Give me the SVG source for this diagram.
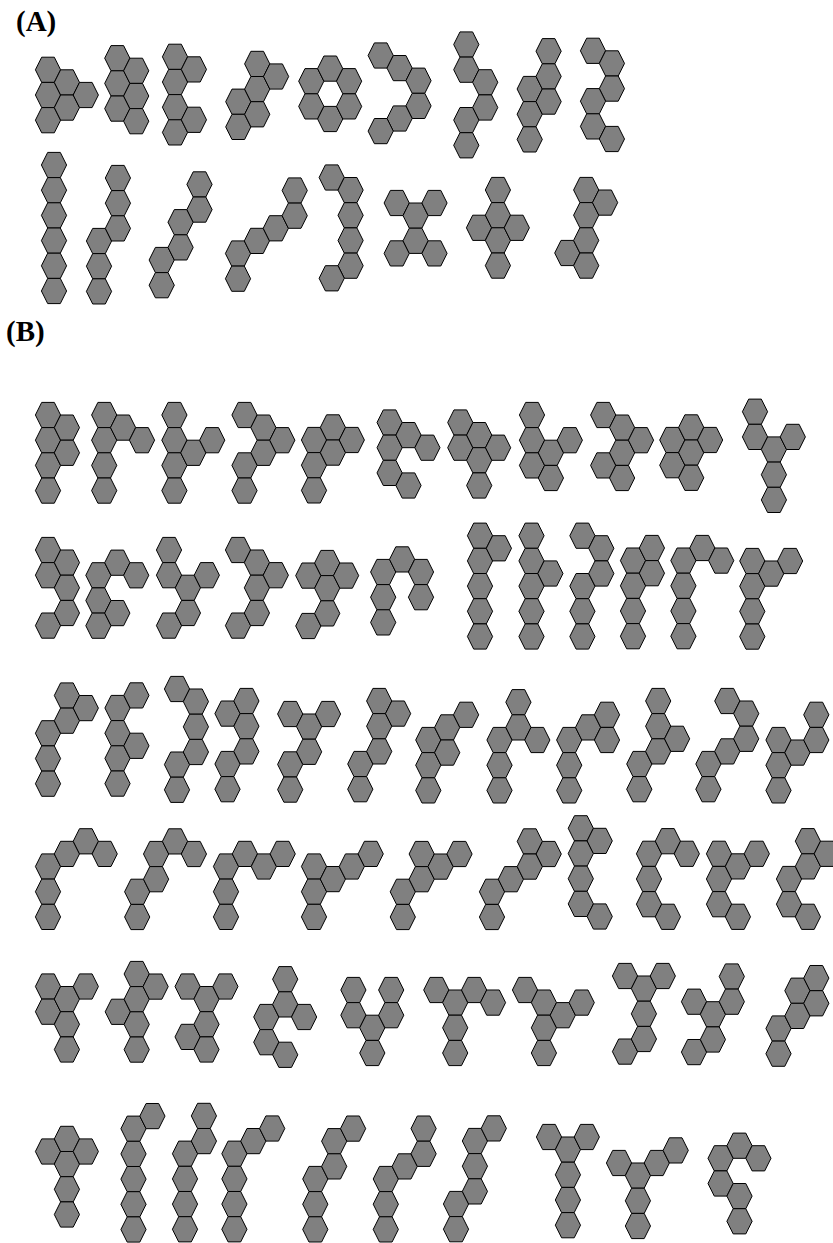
<svg xmlns="http://www.w3.org/2000/svg" xmlns:xlink="http://www.w3.org/1999/xlink" width="833" height="1243" viewBox="0 0 833 1243">
<style>
.hx{fill:#808080;stroke:#000;stroke-width:1;stroke-linejoin:miter}
.lbl{font-family:"Liberation Serif","Times New Roman",serif;font-weight:bold;font-size:29px;fill:#000}
</style>
<defs>
<polygon id="h" class="hx" points="-12.6,0 -6.3,-12.6 6.3,-12.6 12.6,0 6.3,12.6 -6.3,12.6"/>
</defs>
<rect width="833" height="1243" fill="#fff"/>
<text class="lbl" x="16" y="31">(A)</text>
<text class="lbl" x="6" y="341">(B)</text>
<g id="connectors"/>
<g id="A1" transform="translate(48,69.8)"><use href="#h" x="0" y="0"/><use href="#h" x="0" y="25.2"/><use href="#h" x="0" y="50.4"/><use href="#h" x="18.9" y="12.6"/><use href="#h" x="18.9" y="37.8"/><use href="#h" x="37.8" y="25.2"/></g>
<g id="A2" transform="translate(117.3,58.2)"><use href="#h" x="0" y="0"/><use href="#h" x="0" y="25.2"/><use href="#h" x="0" y="50.4"/><use href="#h" x="18.9" y="12.6"/><use href="#h" x="18.9" y="37.8"/><use href="#h" x="18.9" y="63"/></g>
<g id="A3" transform="translate(175,56.8)"><use href="#h" x="0" y="0"/><use href="#h" x="0" y="25.2"/><use href="#h" x="0" y="50.4"/><use href="#h" x="0" y="75.6"/><use href="#h" x="18.9" y="12.6"/><use href="#h" x="18.9" y="63"/></g>
<g id="A4" transform="translate(238.3,101.7)"><use href="#h" x="0" y="0"/><use href="#h" x="0" y="25.2"/><use href="#h" x="18.9" y="-37.8"/><use href="#h" x="18.9" y="-12.6"/><use href="#h" x="18.9" y="12.6"/><use href="#h" x="37.8" y="-25.2"/></g>
<g id="A5" transform="translate(311.3,81.2)"><use href="#h" x="0" y="0"/><use href="#h" x="0" y="25.2"/><use href="#h" x="18.9" y="-12.6"/><use href="#h" x="18.9" y="37.8"/><use href="#h" x="37.8" y="0"/><use href="#h" x="37.8" y="25.2"/></g>
<g id="A6" transform="translate(380.7,55.5)"><use href="#h" x="0" y="0"/><use href="#h" x="18.9" y="12.6"/><use href="#h" x="37.8" y="25.2"/><use href="#h" x="37.8" y="50.4"/><use href="#h" x="18.9" y="63"/><use href="#h" x="0" y="75.6"/></g>
<g id="A7" transform="translate(466.3,44.5)"><use href="#h" x="0" y="0"/><use href="#h" x="0" y="25.2"/><use href="#h" x="18.9" y="37.8"/><use href="#h" x="18.9" y="63"/><use href="#h" x="0" y="75.6"/><use href="#h" x="0" y="100.8"/></g>
<g id="A8" transform="translate(529.7,89)"><use href="#h" x="0" y="0"/><use href="#h" x="0" y="25.2"/><use href="#h" x="0" y="50.4"/><use href="#h" x="18.9" y="-37.8"/><use href="#h" x="18.9" y="-12.6"/><use href="#h" x="18.9" y="12.6"/></g>
<g id="A9" transform="translate(593,50.8)"><use href="#h" x="0" y="0"/><use href="#h" x="18.9" y="12.6"/><use href="#h" x="18.9" y="37.8"/><use href="#h" x="0" y="50.4"/><use href="#h" x="0" y="75.6"/><use href="#h" x="18.9" y="88.2"/></g>
<g id="A10" transform="translate(54,165)"><use href="#h" x="0" y="0"/><use href="#h" x="0" y="25.2"/><use href="#h" x="0" y="50.4"/><use href="#h" x="0" y="75.6"/><use href="#h" x="0" y="100.8"/><use href="#h" x="0" y="126"/></g>
<g id="A11" transform="translate(99,241)"><use href="#h" x="0" y="0"/><use href="#h" x="0" y="25.2"/><use href="#h" x="0" y="50.4"/><use href="#h" x="18.9" y="-63"/><use href="#h" x="18.9" y="-37.8"/><use href="#h" x="18.9" y="-12.6"/></g>
<g id="A12" transform="translate(161.7,260)"><use href="#h" x="0" y="0"/><use href="#h" x="0" y="25.2"/><use href="#h" x="18.9" y="-37.8"/><use href="#h" x="18.9" y="-12.6"/><use href="#h" x="37.8" y="-75.6"/><use href="#h" x="37.8" y="-50.4"/></g>
<g id="A13" transform="translate(238,253.5)"><use href="#h" x="0" y="0"/><use href="#h" x="0" y="25.2"/><use href="#h" x="18.9" y="-12.6"/><use href="#h" x="37.8" y="-25.2"/><use href="#h" x="56.7" y="-63"/><use href="#h" x="56.7" y="-37.8"/></g>
<g id="A14" transform="translate(331.7,177.5)"><use href="#h" x="0" y="0"/><use href="#h" x="18.9" y="12.6"/><use href="#h" x="18.9" y="37.8"/><use href="#h" x="18.9" y="63"/><use href="#h" x="18.9" y="88.2"/><use href="#h" x="0" y="100.8"/></g>
<g id="A15" transform="translate(396.7,203)"><use href="#h" x="0" y="0"/><use href="#h" x="0" y="50.4"/><use href="#h" x="18.9" y="12.6"/><use href="#h" x="18.9" y="37.8"/><use href="#h" x="37.8" y="0"/><use href="#h" x="37.8" y="50.4"/></g>
<g id="A16" transform="translate(479,190)"><use href="#h" x="0" y="37.8"/><use href="#h" x="18.9" y="0"/><use href="#h" x="18.9" y="25.2"/><use href="#h" x="18.9" y="50.4"/><use href="#h" x="18.9" y="75.6"/><use href="#h" x="37.8" y="37.8"/></g>
<g id="A17" transform="translate(567.3,190)"><use href="#h" x="0" y="63"/><use href="#h" x="18.9" y="0"/><use href="#h" x="18.9" y="25.2"/><use href="#h" x="18.9" y="50.4"/><use href="#h" x="18.9" y="75.6"/><use href="#h" x="37.8" y="12.6"/></g>

<g id="B1-1" transform="translate(48,415)"><use href="#h" x="0" y="0"/><use href="#h" x="0" y="25.2"/><use href="#h" x="0" y="50.4"/><use href="#h" x="0" y="75.6"/><use href="#h" x="18.9" y="12.6"/><use href="#h" x="18.9" y="37.8"/></g>
<g id="B1-2" transform="translate(104.2,415)"><use href="#h" x="0" y="0"/><use href="#h" x="0" y="25.2"/><use href="#h" x="0" y="50.4"/><use href="#h" x="0" y="75.6"/><use href="#h" x="18.9" y="12.6"/><use href="#h" x="37.8" y="25.2"/></g>
<g id="B1-3" transform="translate(174.4,415)"><use href="#h" x="0" y="0"/><use href="#h" x="0" y="25.2"/><use href="#h" x="0" y="50.4"/><use href="#h" x="0" y="75.6"/><use href="#h" x="18.9" y="37.8"/><use href="#h" x="37.8" y="25.2"/></g>
<g id="B1-4" transform="translate(244.5,415)"><use href="#h" x="0" y="0"/><use href="#h" x="18.9" y="12.6"/><use href="#h" x="18.9" y="37.8"/><use href="#h" x="37.8" y="25.2"/><use href="#h" x="0" y="50.4"/><use href="#h" x="0" y="75.6"/></g>
<g id="B1-5" transform="translate(314,440)"><use href="#h" x="0" y="0"/><use href="#h" x="0" y="25.2"/><use href="#h" x="0" y="50.4"/><use href="#h" x="18.9" y="-12.6"/><use href="#h" x="18.9" y="12.6"/><use href="#h" x="37.8" y="0"/></g>
<g id="B1-6" transform="translate(389.6,422.5)"><use href="#h" x="0" y="0"/><use href="#h" x="0" y="25.2"/><use href="#h" x="0" y="50.4"/><use href="#h" x="18.9" y="12.6"/><use href="#h" x="18.9" y="63"/><use href="#h" x="37.8" y="25.2"/></g>
<g id="B1-7" transform="translate(460.3,422.5)"><use href="#h" x="0" y="0"/><use href="#h" x="0" y="25.2"/><use href="#h" x="18.9" y="12.6"/><use href="#h" x="18.9" y="37.8"/><use href="#h" x="18.9" y="63"/><use href="#h" x="37.8" y="25.2"/></g>
<g id="B1-8" transform="translate(532,415)"><use href="#h" x="0" y="0"/><use href="#h" x="0" y="25.2"/><use href="#h" x="0" y="50.4"/><use href="#h" x="18.9" y="37.8"/><use href="#h" x="18.9" y="63"/><use href="#h" x="37.8" y="25.2"/></g>
<g id="B1-9" transform="translate(603.2,415)"><use href="#h" x="0" y="0"/><use href="#h" x="0" y="50.4"/><use href="#h" x="18.9" y="12.6"/><use href="#h" x="18.9" y="37.8"/><use href="#h" x="18.9" y="63"/><use href="#h" x="37.8" y="25.2"/></g>
<g id="B1-10" transform="translate(672.3,440)"><use href="#h" x="0" y="0"/><use href="#h" x="0" y="25.2"/><use href="#h" x="18.9" y="-12.6"/><use href="#h" x="18.9" y="12.6"/><use href="#h" x="18.9" y="37.8"/><use href="#h" x="37.8" y="0"/></g>
<g id="B1-11" transform="translate(755,411.7)"><use href="#h" x="0" y="0"/><use href="#h" x="0" y="25.2"/><use href="#h" x="18.9" y="37.8"/><use href="#h" x="18.9" y="63"/><use href="#h" x="18.9" y="88.2"/><use href="#h" x="37.8" y="25.2"/></g>

<g id="B2-1" transform="translate(48,550)"><use href="#h" x="0" y="0"/><use href="#h" x="0" y="25.2"/><use href="#h" x="0" y="75.6"/><use href="#h" x="18.9" y="12.6"/><use href="#h" x="18.9" y="37.8"/><use href="#h" x="18.9" y="63"/></g>
<g id="B2-2" transform="translate(98.4,575.3)"><use href="#h" x="0" y="0"/><use href="#h" x="0" y="25.2"/><use href="#h" x="0" y="50.4"/><use href="#h" x="18.9" y="-12.6"/><use href="#h" x="18.9" y="37.8"/><use href="#h" x="37.8" y="0"/></g>
<g id="B2-3" transform="translate(169,550)"><use href="#h" x="0" y="0"/><use href="#h" x="0" y="25.2"/><use href="#h" x="0" y="75.6"/><use href="#h" x="18.9" y="37.8"/><use href="#h" x="18.9" y="63"/><use href="#h" x="37.8" y="25.2"/></g>
<g id="B2-4" transform="translate(238,550)"><use href="#h" x="0" y="0"/><use href="#h" x="0" y="75.6"/><use href="#h" x="18.9" y="12.6"/><use href="#h" x="18.9" y="37.8"/><use href="#h" x="18.9" y="63"/><use href="#h" x="37.8" y="25.2"/></g>
<g id="B2-5" transform="translate(308.3,563)"><use href="#h" x="0" y="12.6"/><use href="#h" x="0" y="63"/><use href="#h" x="18.9" y="0"/><use href="#h" x="18.9" y="25.2"/><use href="#h" x="18.9" y="50.4"/><use href="#h" x="37.8" y="12.6"/></g>
<g id="B2-6" transform="translate(383.2,572)"><use href="#h" x="0" y="0"/><use href="#h" x="0" y="25.2"/><use href="#h" x="0" y="50.4"/><use href="#h" x="18.9" y="-12.6"/><use href="#h" x="37.8" y="0"/><use href="#h" x="37.8" y="25.2"/></g>
<g id="B2-7" transform="translate(480,535.7)"><use href="#h" x="0" y="0"/><use href="#h" x="0" y="25.2"/><use href="#h" x="0" y="50.4"/><use href="#h" x="0" y="75.6"/><use href="#h" x="0" y="100.8"/><use href="#h" x="18.9" y="12.6"/></g>
<g id="B2-8" transform="translate(531.5,535.7)"><use href="#h" x="0" y="0"/><use href="#h" x="0" y="25.2"/><use href="#h" x="0" y="50.4"/><use href="#h" x="0" y="75.6"/><use href="#h" x="0" y="100.8"/><use href="#h" x="18.9" y="37.8"/></g>
<g id="B2-9" transform="translate(582.4,535.7)"><use href="#h" x="0" y="0"/><use href="#h" x="0" y="50.4"/><use href="#h" x="0" y="75.6"/><use href="#h" x="0" y="100.8"/><use href="#h" x="18.9" y="12.6"/><use href="#h" x="18.9" y="37.8"/></g>
<g id="B2-10" transform="translate(633,548)"><use href="#h" x="0" y="12.6"/><use href="#h" x="0" y="37.8"/><use href="#h" x="0" y="63"/><use href="#h" x="0" y="88.2"/><use href="#h" x="18.9" y="0"/><use href="#h" x="18.9" y="25.2"/></g>
<g id="B2-11" transform="translate(683.4,548)"><use href="#h" x="0" y="12.6"/><use href="#h" x="0" y="37.8"/><use href="#h" x="0" y="63"/><use href="#h" x="0" y="88.2"/><use href="#h" x="18.9" y="0"/><use href="#h" x="37.8" y="12.6"/></g>
<g id="B2-12" transform="translate(752.3,561)"><use href="#h" x="0" y="0"/><use href="#h" x="0" y="25.2"/><use href="#h" x="0" y="50.4"/><use href="#h" x="0" y="75.6"/><use href="#h" x="18.9" y="12.6"/><use href="#h" x="37.8" y="0"/></g>

<g id="B3-1" transform="translate(48,733.3)"><use href="#h" x="0" y="0"/><use href="#h" x="0" y="25.2"/><use href="#h" x="0" y="50.4"/><use href="#h" x="18.9" y="-37.8"/><use href="#h" x="18.9" y="-12.6"/><use href="#h" x="37.8" y="-25.2"/></g>
<g id="B3-2" transform="translate(117.5,708)"><use href="#h" x="0" y="0"/><use href="#h" x="0" y="25.2"/><use href="#h" x="0" y="50.4"/><use href="#h" x="0" y="75.6"/><use href="#h" x="18.9" y="-12.6"/><use href="#h" x="18.9" y="37.8"/></g>
<g id="B3-3" transform="translate(177,689)"><use href="#h" x="0" y="0"/><use href="#h" x="0" y="75.6"/><use href="#h" x="0" y="100.8"/><use href="#h" x="18.9" y="12.6"/><use href="#h" x="18.9" y="37.8"/><use href="#h" x="18.9" y="63"/></g>
<g id="B3-4" transform="translate(227.5,701)"><use href="#h" x="0" y="12.6"/><use href="#h" x="0" y="63"/><use href="#h" x="0" y="88.2"/><use href="#h" x="18.9" y="0"/><use href="#h" x="18.9" y="25.2"/><use href="#h" x="18.9" y="50.4"/></g>
<g id="B3-5" transform="translate(290.2,714)"><use href="#h" x="0" y="0"/><use href="#h" x="0" y="50.4"/><use href="#h" x="0" y="75.6"/><use href="#h" x="18.9" y="12.6"/><use href="#h" x="18.9" y="37.8"/><use href="#h" x="37.8" y="0"/></g>
<g id="B3-6" transform="translate(360.3,701)"><use href="#h" x="0" y="63"/><use href="#h" x="0" y="88.2"/><use href="#h" x="18.9" y="0"/><use href="#h" x="18.9" y="25.2"/><use href="#h" x="18.9" y="50.4"/><use href="#h" x="37.8" y="12.6"/></g>
<g id="B3-7" transform="translate(428.3,740)"><use href="#h" x="0" y="0"/><use href="#h" x="0" y="25.2"/><use href="#h" x="0" y="50.4"/><use href="#h" x="18.9" y="-12.6"/><use href="#h" x="18.9" y="12.6"/><use href="#h" x="37.8" y="-25.2"/></g>
<g id="B3-8" transform="translate(499.5,740)"><use href="#h" x="0" y="0"/><use href="#h" x="0" y="25.2"/><use href="#h" x="0" y="50.4"/><use href="#h" x="18.9" y="-37.8"/><use href="#h" x="18.9" y="-12.6"/><use href="#h" x="37.8" y="0"/></g>
<g id="B3-9" transform="translate(569.2,740)"><use href="#h" x="0" y="0"/><use href="#h" x="0" y="25.2"/><use href="#h" x="0" y="50.4"/><use href="#h" x="18.9" y="-12.6"/><use href="#h" x="37.8" y="-25.2"/><use href="#h" x="37.8" y="0"/></g>
<g id="B3-10" transform="translate(639.3,701)"><use href="#h" x="0" y="63"/><use href="#h" x="0" y="88.2"/><use href="#h" x="18.9" y="0"/><use href="#h" x="18.9" y="25.2"/><use href="#h" x="18.9" y="50.4"/><use href="#h" x="37.8" y="37.8"/></g>
<g id="B3-11" transform="translate(708.4,701)"><use href="#h" x="0" y="63"/><use href="#h" x="0" y="88.2"/><use href="#h" x="18.9" y="0"/><use href="#h" x="18.9" y="50.4"/><use href="#h" x="37.8" y="12.6"/><use href="#h" x="37.8" y="37.8"/></g>
<g id="B3-12" transform="translate(778.5,740)"><use href="#h" x="0" y="0"/><use href="#h" x="0" y="25.2"/><use href="#h" x="0" y="50.4"/><use href="#h" x="18.9" y="12.6"/><use href="#h" x="37.8" y="-25.2"/><use href="#h" x="37.8" y="0"/></g>

<g id="B4-1" transform="translate(48,866.5)"><use href="#h" x="0" y="0"/><use href="#h" x="0" y="25.2"/><use href="#h" x="0" y="50.4"/><use href="#h" x="18.9" y="-12.6"/><use href="#h" x="37.8" y="-25.2"/><use href="#h" x="56.7" y="-12.6"/></g>
<g id="B4-2" transform="translate(137.2,891.8)"><use href="#h" x="0" y="0"/><use href="#h" x="0" y="25.2"/><use href="#h" x="18.9" y="-37.8"/><use href="#h" x="18.9" y="-12.6"/><use href="#h" x="37.8" y="-50.4"/><use href="#h" x="56.7" y="-37.8"/></g>
<g id="B4-3" transform="translate(226,866.5)"><use href="#h" x="0" y="0"/><use href="#h" x="0" y="25.2"/><use href="#h" x="0" y="50.4"/><use href="#h" x="18.9" y="-12.6"/><use href="#h" x="37.8" y="0"/><use href="#h" x="56.7" y="-12.6"/></g>
<g id="B4-4" transform="translate(314,866.5)"><use href="#h" x="0" y="0"/><use href="#h" x="0" y="25.2"/><use href="#h" x="0" y="50.4"/><use href="#h" x="18.9" y="12.6"/><use href="#h" x="37.8" y="0"/><use href="#h" x="56.7" y="-12.6"/></g>
<g id="B4-5" transform="translate(402.8,891.8)"><use href="#h" x="0" y="0"/><use href="#h" x="0" y="25.2"/><use href="#h" x="18.9" y="-37.8"/><use href="#h" x="18.9" y="-12.6"/><use href="#h" x="37.8" y="-25.2"/><use href="#h" x="56.7" y="-37.8"/></g>
<g id="B4-6" transform="translate(492,891.8)"><use href="#h" x="0" y="0"/><use href="#h" x="0" y="25.2"/><use href="#h" x="18.9" y="-12.6"/><use href="#h" x="37.8" y="-50.4"/><use href="#h" x="37.8" y="-25.2"/><use href="#h" x="56.7" y="-37.8"/></g>
<g id="B4-7" transform="translate(580.8,828.3)"><use href="#h" x="0" y="0"/><use href="#h" x="0" y="25.2"/><use href="#h" x="0" y="50.4"/><use href="#h" x="0" y="75.6"/><use href="#h" x="18.9" y="12.6"/><use href="#h" x="18.9" y="88.2"/></g>
<g id="B4-8" transform="translate(649,853.8)"><use href="#h" x="0" y="0"/><use href="#h" x="0" y="25.2"/><use href="#h" x="0" y="50.4"/><use href="#h" x="18.9" y="-12.6"/><use href="#h" x="18.9" y="63"/><use href="#h" x="37.8" y="0"/></g>
<g id="B4-9" transform="translate(719,853.8)"><use href="#h" x="0" y="0"/><use href="#h" x="0" y="25.2"/><use href="#h" x="0" y="50.4"/><use href="#h" x="18.9" y="12.6"/><use href="#h" x="18.9" y="63"/><use href="#h" x="37.8" y="0"/></g>
<g id="B4-10" transform="translate(789,879)"><use href="#h" x="0" y="0"/><use href="#h" x="0" y="25.2"/><use href="#h" x="18.9" y="-37.8"/><use href="#h" x="18.9" y="-12.6"/><use href="#h" x="18.9" y="37.8"/><use href="#h" x="37.8" y="-25.2"/></g>

<g id="B5-1" transform="translate(48,986.5)"><use href="#h" x="0" y="0"/><use href="#h" x="0" y="25.2"/><use href="#h" x="18.9" y="12.6"/><use href="#h" x="18.9" y="37.8"/><use href="#h" x="18.9" y="63"/><use href="#h" x="37.8" y="0"/></g>
<g id="B5-2" transform="translate(117.8,1011.8)"><use href="#h" x="0" y="0"/><use href="#h" x="18.9" y="-37.8"/><use href="#h" x="18.9" y="-12.6"/><use href="#h" x="18.9" y="12.6"/><use href="#h" x="18.9" y="37.8"/><use href="#h" x="37.8" y="-25.2"/></g>
<g id="B5-3" transform="translate(187.6,986.5)"><use href="#h" x="0" y="0"/><use href="#h" x="0" y="50.4"/><use href="#h" x="18.9" y="12.6"/><use href="#h" x="18.9" y="37.8"/><use href="#h" x="18.9" y="63"/><use href="#h" x="37.8" y="0"/></g>
<g id="B5-4" transform="translate(266.3,1017)"><use href="#h" x="0" y="0"/><use href="#h" x="0" y="25.2"/><use href="#h" x="18.9" y="-37.8"/><use href="#h" x="18.9" y="-12.6"/><use href="#h" x="18.9" y="37.8"/><use href="#h" x="37.8" y="0"/></g>
<g id="B5-5" transform="translate(353.4,990)"><use href="#h" x="0" y="0"/><use href="#h" x="0" y="25.2"/><use href="#h" x="18.9" y="37.8"/><use href="#h" x="18.9" y="63"/><use href="#h" x="37.8" y="0"/><use href="#h" x="37.8" y="25.2"/></g>
<g id="B5-6" transform="translate(436.3,990)"><use href="#h" x="0" y="0"/><use href="#h" x="18.9" y="12.6"/><use href="#h" x="18.9" y="37.8"/><use href="#h" x="18.9" y="63"/><use href="#h" x="37.8" y="0"/><use href="#h" x="56.7" y="12.6"/></g>
<g id="B5-7" transform="translate(525,990)"><use href="#h" x="0" y="0"/><use href="#h" x="18.9" y="12.6"/><use href="#h" x="18.9" y="37.8"/><use href="#h" x="18.9" y="63"/><use href="#h" x="37.8" y="25.2"/><use href="#h" x="56.7" y="12.6"/></g>
<g id="B5-8" transform="translate(625,976)"><use href="#h" x="0" y="0"/><use href="#h" x="0" y="75.6"/><use href="#h" x="18.9" y="12.6"/><use href="#h" x="18.9" y="37.8"/><use href="#h" x="18.9" y="63"/><use href="#h" x="37.8" y="0"/></g>
<g id="B5-9" transform="translate(694,1001.7)"><use href="#h" x="0" y="0"/><use href="#h" x="0" y="50.4"/><use href="#h" x="18.9" y="12.6"/><use href="#h" x="18.9" y="37.8"/><use href="#h" x="37.8" y="-25.2"/><use href="#h" x="37.8" y="0"/></g>
<g id="B5-10" transform="translate(778.5,1028.5)"><use href="#h" x="0" y="0"/><use href="#h" x="0" y="25.2"/><use href="#h" x="18.9" y="-37.8"/><use href="#h" x="18.9" y="-12.6"/><use href="#h" x="37.8" y="-50.4"/><use href="#h" x="37.8" y="-25.2"/></g>

<g id="B6-1" transform="translate(48,1151.5)"><use href="#h" x="0" y="0"/><use href="#h" x="18.9" y="-12.6"/><use href="#h" x="18.9" y="12.6"/><use href="#h" x="18.9" y="37.8"/><use href="#h" x="18.9" y="63"/><use href="#h" x="37.8" y="0"/></g>
<g id="B6-2" transform="translate(133.5,1128.7)"><use href="#h" x="0" y="0"/><use href="#h" x="0" y="25.2"/><use href="#h" x="0" y="50.4"/><use href="#h" x="0" y="75.6"/><use href="#h" x="0" y="100.8"/><use href="#h" x="18.9" y="-12.6"/></g>
<g id="B6-3" transform="translate(185,1153.7)"><use href="#h" x="0" y="0"/><use href="#h" x="0" y="25.2"/><use href="#h" x="0" y="50.4"/><use href="#h" x="0" y="75.6"/><use href="#h" x="18.9" y="-37.8"/><use href="#h" x="18.9" y="-12.6"/></g>
<g id="B6-4" transform="translate(234.4,1153.7)"><use href="#h" x="0" y="0"/><use href="#h" x="0" y="25.2"/><use href="#h" x="0" y="50.4"/><use href="#h" x="0" y="75.6"/><use href="#h" x="18.9" y="-12.6"/><use href="#h" x="37.8" y="-25.2"/></g>
<g id="B6-5" transform="translate(315.3,1179)"><use href="#h" x="0" y="0"/><use href="#h" x="0" y="25.2"/><use href="#h" x="0" y="50.4"/><use href="#h" x="18.9" y="-37.8"/><use href="#h" x="18.9" y="-12.6"/><use href="#h" x="37.8" y="-50.4"/></g>
<g id="B6-6" transform="translate(385.8,1179)"><use href="#h" x="0" y="0"/><use href="#h" x="0" y="25.2"/><use href="#h" x="0" y="50.4"/><use href="#h" x="18.9" y="-12.6"/><use href="#h" x="37.8" y="-50.4"/><use href="#h" x="37.8" y="-25.2"/></g>
<g id="B6-7" transform="translate(456,1204)"><use href="#h" x="0" y="0"/><use href="#h" x="0" y="25.2"/><use href="#h" x="18.9" y="-63"/><use href="#h" x="18.9" y="-37.8"/><use href="#h" x="18.9" y="-12.6"/><use href="#h" x="37.8" y="-75.6"/></g>
<g id="B6-8" transform="translate(549,1137)"><use href="#h" x="0" y="0"/><use href="#h" x="18.9" y="12.6"/><use href="#h" x="18.9" y="37.8"/><use href="#h" x="18.9" y="63"/><use href="#h" x="18.9" y="88.2"/><use href="#h" x="37.8" y="0"/></g>
<g id="B6-9" transform="translate(619,1163)"><use href="#h" x="0" y="0"/><use href="#h" x="18.9" y="12.6"/><use href="#h" x="18.9" y="37.8"/><use href="#h" x="18.9" y="63"/><use href="#h" x="37.8" y="0"/><use href="#h" x="56.7" y="-12.6"/></g>
<g id="B6-10" transform="translate(720.6,1158.3)"><use href="#h" x="0" y="0"/><use href="#h" x="0" y="25.2"/><use href="#h" x="18.9" y="-12.6"/><use href="#h" x="18.9" y="37.8"/><use href="#h" x="18.9" y="63"/><use href="#h" x="37.8" y="0"/></g>
</svg>
